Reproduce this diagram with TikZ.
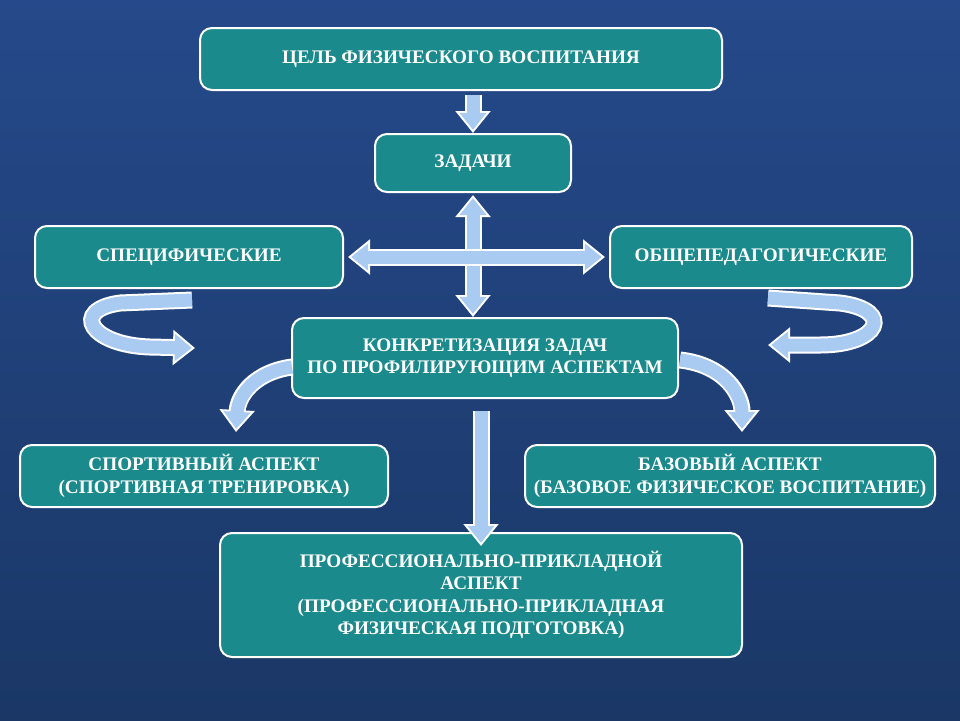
\documentclass[tikz,border=0pt]{standalone}
\usepackage{fontspec}
\setmainfont{Liberation Serif}
\usetikzlibrary{arrows.meta}
\definecolor{boxteal}{HTML}{1B8A8C}
\definecolor{arrowblue}{HTML}{A9CBF2}
\definecolor{bgtop}{HTML}{25498A}
\definecolor{bgbot}{HTML}{1A3766}
\tikzset{
  box/.style={draw=white, line width=1pt, fill=boxteal, rounded corners=6pt,
    text=white, font=\fontsize{9.6}{11.2}\selectfont\bfseries, align=center,
    inner sep=0pt},
  arrowout/.style={draw=white, line width=8.5pt,
    -{Triangle[length=11pt,width=17pt]}},
  arrowin/.style={draw=arrowblue, line width=6.5pt, shorten >=1.6pt,
    -{Triangle[length=8.5pt,width=13pt]}},
  darrowout/.style={draw=white, line width=8.5pt,
    {Triangle[length=11pt,width=17pt]}-{Triangle[length=11pt,width=17pt]}},
  darrowin/.style={draw=arrowblue, line width=6.5pt, shorten >=1.6pt, shorten <=1.6pt,
    {Triangle[length=8.5pt,width=13pt]}-{Triangle[length=8.5pt,width=13pt]}}
}
\newcommand{\blockarrow}[1]{\draw[arrowout] #1; \draw[arrowin] #1;}
\newcommand{\blockdarrow}[1]{\draw[darrowout] #1; \draw[darrowin] #1;}
\begin{document}
\begin{tikzpicture}[x=0.5pt, y=-0.5pt]
\useasboundingbox (0,0) rectangle (960,720);
\shade[top color=bgtop, bottom color=bgbot] (0,0) rectangle (960,720);

% boxes
\node[box, minimum width=261pt, minimum height=31pt] (goal) at (461,59) {ЦЕЛЬ ФИЗИЧЕСКОГО ВОСПИТАНИЯ};
\node[box, minimum width=98pt, minimum height=29pt] (tasks) at (473,163) {ЗАДАЧИ};
\node[box, minimum width=154pt, minimum height=31pt] (spec) at (189,257) {СПЕЦИФИЧЕСКИЕ};
\node[box, minimum width=151pt, minimum height=31pt] (gen) at (761,257) {ОБЩЕПЕДАГОГИЧЕСКИЕ};
\node[box, minimum width=193pt, minimum height=40pt] (concr) at (485,358) {КОНКРЕТИЗАЦИЯ ЗАДАЧ\\ПО ПРОФИЛИРУЮЩИМ АСПЕКТАМ};
\node[box, minimum width=184pt, minimum height=31pt] (sport) at (204,476) {СПОРТИВНЫЙ АСПЕКТ\\(СПОРТИВНАЯ ТРЕНИРОВКА)};
\node[box, minimum width=205pt, minimum height=31pt] (base) at (730,476) {БАЗОВЫЙ АСПЕКТ\\(БАЗОВОЕ ФИЗИЧЕСКОЕ ВОСПИТАНИЕ)};
\node[box, minimum width=261pt, minimum height=62pt] (prof) at (481,595) {ПРОФЕССИОНАЛЬНО-ПРИКЛАДНОЙ\\АСПЕКТ\\(ПРОФЕССИОНАЛЬНО-ПРИКЛАДНАЯ\\ФИЗИЧЕСКАЯ ПОДГОТОВКА)};

% straight arrows
\blockarrow{(goal.south -| tasks.north) ++(0,4) -- (tasks.north)}
\blockdarrow{(tasks.south) ++(0,2) -- (tasks.south |- concr.north)}
\blockdarrow{([xshift=2pt]spec.east) -- ([xshift=-2pt]gen.west)}
\blockarrow{([yshift=-6pt]concr.south -| prof.north) -- ([yshift=-7pt]prof.north)}

% curved arrows
\coordinate (cl1) at (292,367); \coordinate (cl2) at (236,432);
\coordinate (cr1) at (680,360); \coordinate (cr2) at (742,432);
\blockarrow{(cl1) .. controls (255,372) and (238,395) .. (cl2)}
\blockarrow{(cr1) .. controls (725,365) and (742,395) .. (cr2)}
\coordinate (sl1) at (192,300); \coordinate (sl2) at (195,348);
\coordinate (sr1) at (768,298); \coordinate (sr2) at (768,345);
\blockarrow{(sl1) -- (120,303) .. controls (70,310) and (90,345) .. (150,347) -- (sl2)}
\blockarrow{(sr1) -- (840,303) .. controls (895,310) and (880,345) .. (820,345) -- (sr2)}
\end{tikzpicture}
\end{document}
